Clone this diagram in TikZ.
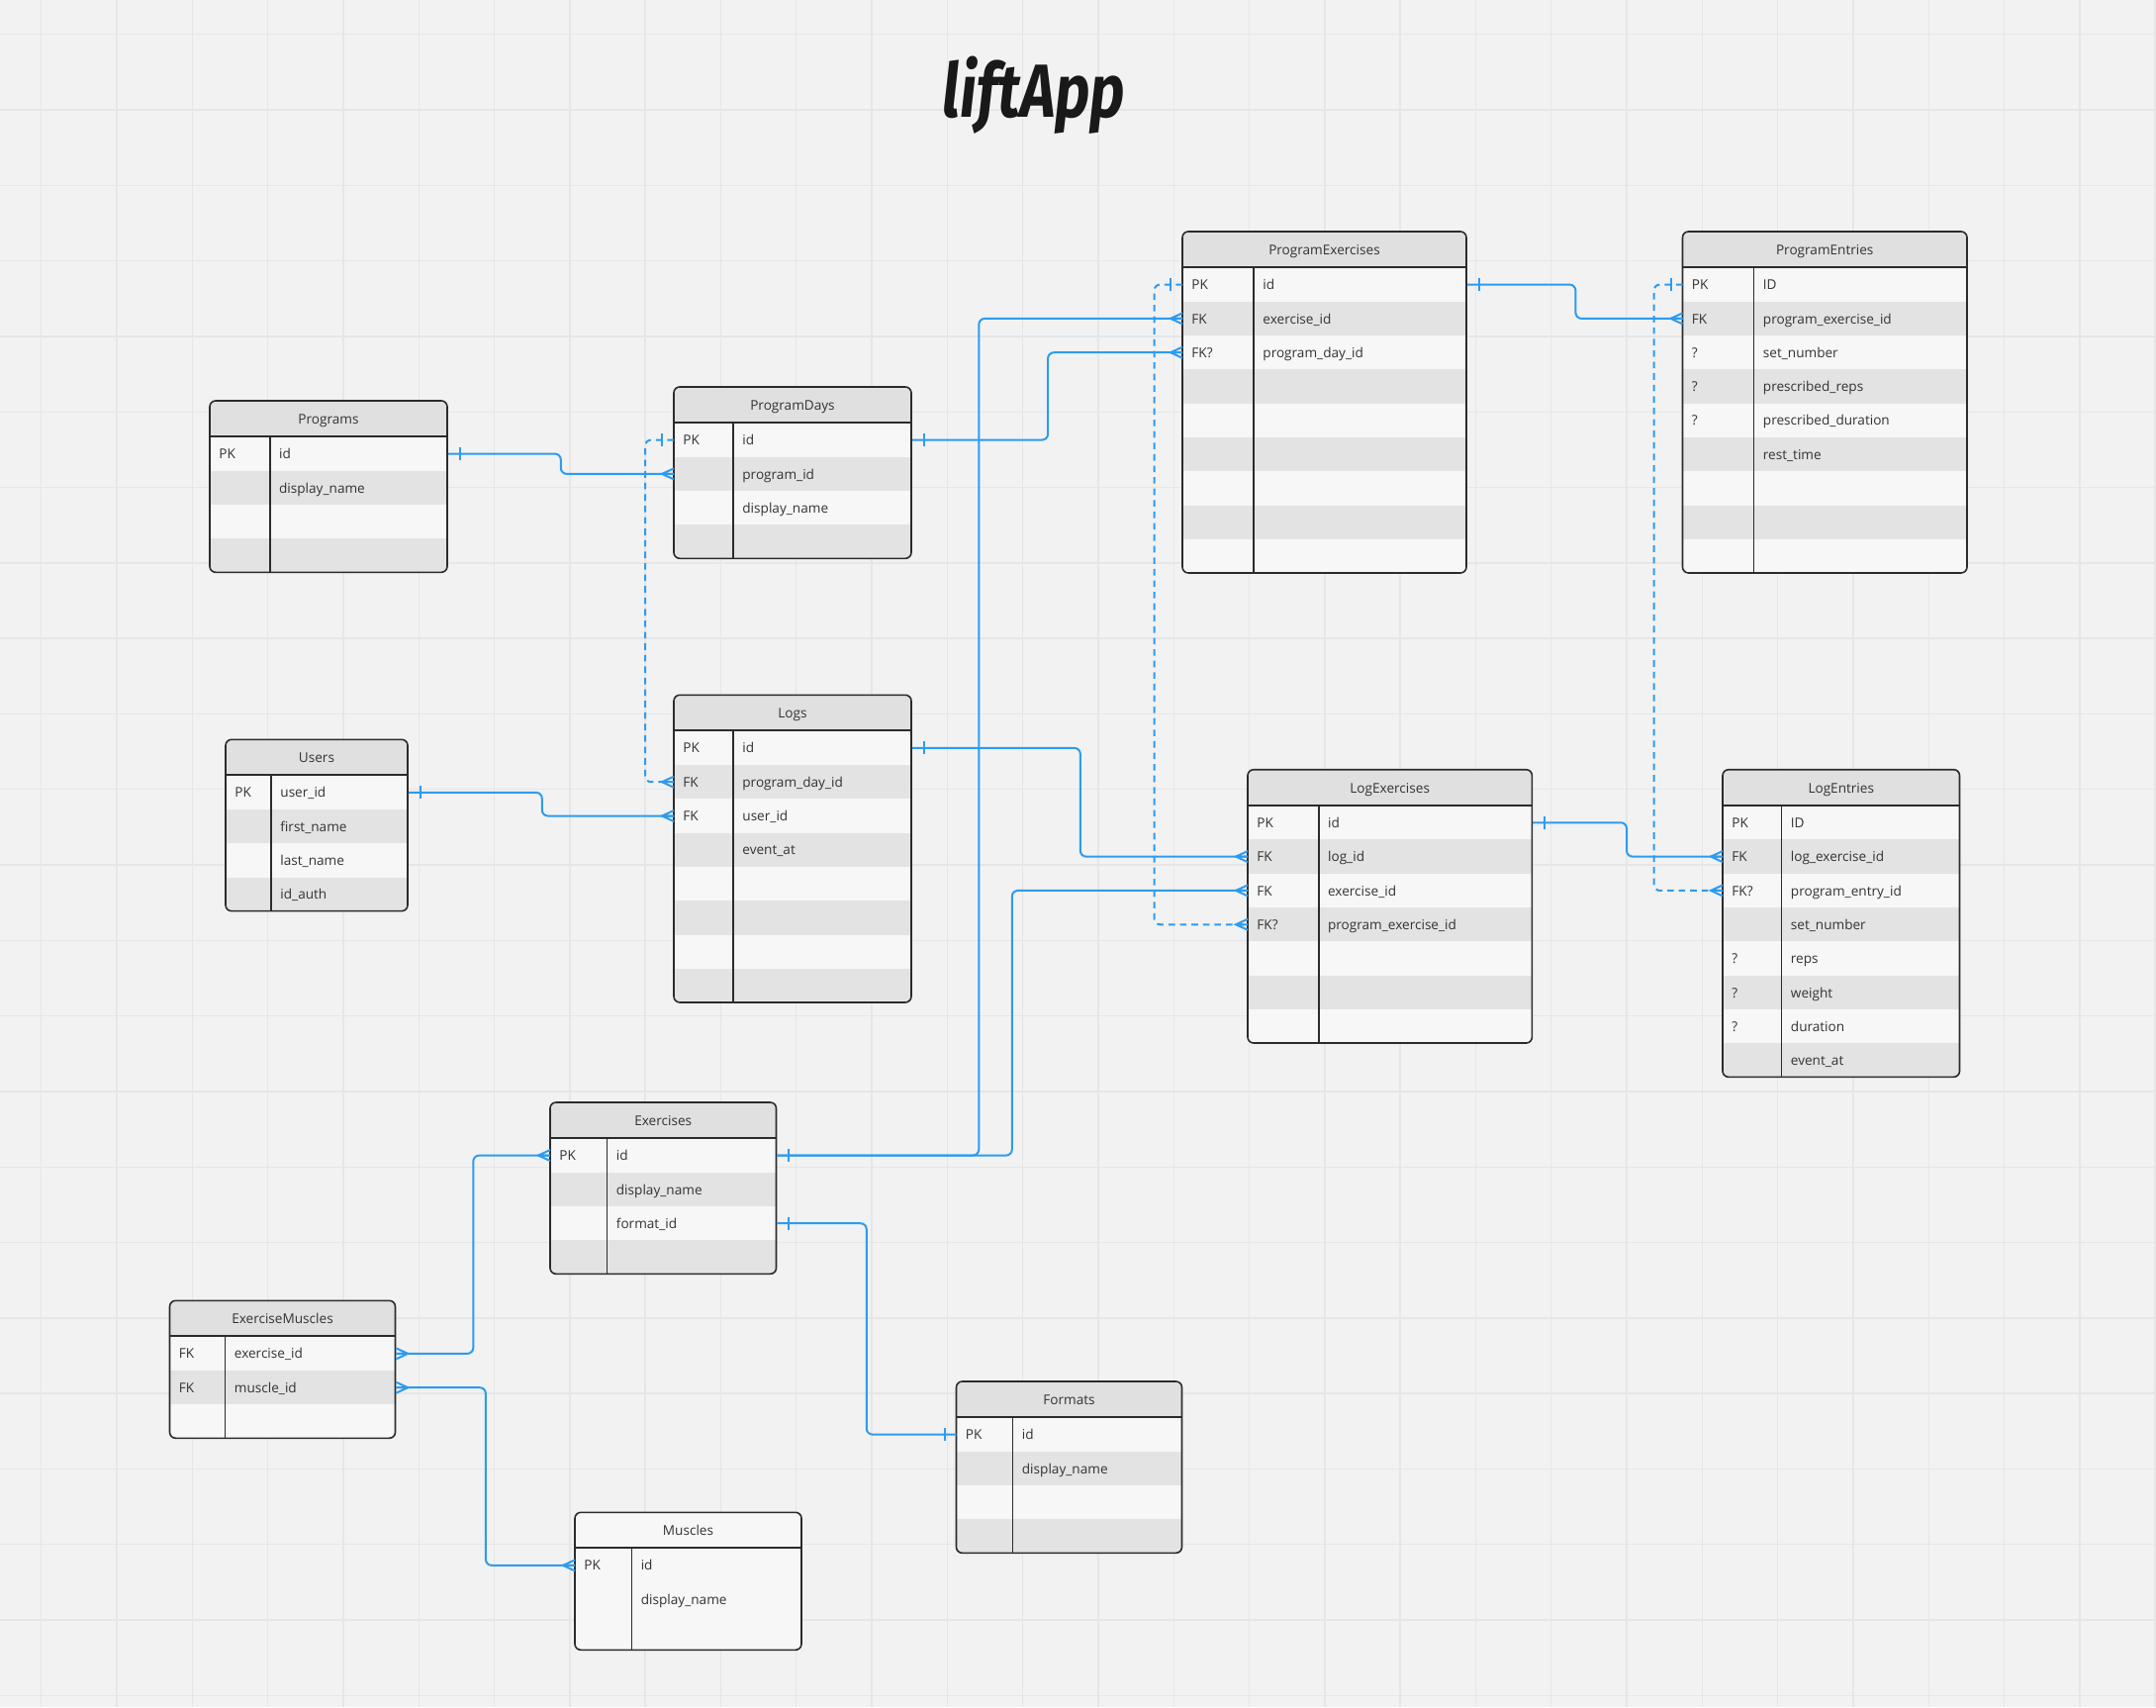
\documentclass[tikz,border=0pt]{standalone}
\usepackage{fontspec}
\setmainfont{Open Sans}
\newfontfamily\titlefont{Fira Sans}
\usepackage{tikz}

\definecolor{bgpaper}{HTML}{F2F2F2}
\definecolor{gridcol}{HTML}{E6E6E6}
\definecolor{erblue}{HTML}{2D9BF0}
\definecolor{erlight}{HTML}{F7F7F7}
\definecolor{erstripe}{HTML}{E3E3E3}
\definecolor{erhead}{HTML}{E0E0E0}
\definecolor{erink}{HTML}{2B2B2B}
\definecolor{ertext}{HTML}{333333}

\tikzset{
  gridline/.style={draw=gridcol, line width=0.7pt},
  erline/.style={draw=erblue, line width=1pt, rounded corners=3pt},
  erdash/.style={erline, dash pattern=on 3.3pt off 2.5pt},
  ermark/.style={draw=erblue, line width=1pt},
  erborder/.style={draw=erink, line width=0.8pt},
  rowbox/.style={anchor=north west, inner sep=0pt, minimum height=\rowh*\px},
  erkey/.style={anchor=base west, inner sep=0pt, text=ertext, font=\fontsize{6.8}{8}\selectfont},
  erfield/.style={erkey},
  ertitle/.style={anchor=base, inner sep=0pt, text=ertext, font=\fontsize{6.8}{8}\selectfont},
}

\newcommand{\rowh}{34.33}
\newcommand{\px}{0.5pt}
% #1 name, #2 left, #3 top, #4 width, #5 key column, #6 title, #7 rows
\newcommand{\ertable}[7]{%
  \foreach \k/\f [count=\i] in {#7} {\xdef\ernrows{\i}}%
  \pgfmathsetmacro{\erbottom}{36+\ernrows*\rowh}%
  \begin{scope}[shift={(#2,#3)}]
    \begin{scope}
      \clip[rounded corners=3pt] (0,0) rectangle (#4,\erbottom);
      \fill[erhead] (0,0) rectangle (#4,36);
      \foreach \k/\f [count=\i] in {#7} {
        \pgfmathsetmacro{\ertop}{36+(\i-1)*\rowh}
        \ifodd\i\relax\colorlet{erfill}{erlight}\else\colorlet{erfill}{erstripe}\fi
        \node[rowbox, fill=erfill, minimum width=#4*\px] (#1-\i) at (0,\ertop) {};
        \node[erkey] (#1-\i-k) at (9,\ertop+\rowh/2+5.5) {\k};
        \node[erfield] (#1-\i-f) at (#5+9,\ertop+\rowh/2+5.5) {\f};
      }
    \end{scope}
    \node[ertitle] (#1-t) at (#4/2,23.5) {#6};
    \draw[erborder, rounded corners=3pt] (0,0) rectangle (#4,\erbottom);
    \draw[erborder, line width=1.1pt] (0,36) -- (#4,36);
    \draw[erborder] (#5,36) -- (#5,\erbottom);
  \end{scope}}
% one / many ends, #2 = 1 (east side) or -1 (west side)
\newcommand{\onemark}[2]{\draw[ermark] ([xshift=#2*6pt, yshift=3.25pt]#1) -- ([xshift=#2*6pt, yshift=-3.25pt]#1);}
\newcommand{\manymark}[2]{\draw[ermark] ([yshift=2.75pt]#1) -- ([xshift=#2*6pt]#1) -- ([yshift=-2.75pt]#1) ([xshift=#2*6pt]#1) -- (#1);}

\begin{document}
\begin{tikzpicture}[x=0.5pt, y=-0.5pt]
  \useasboundingbox (0,0) rectangle (2179,1725);
  \fill[bgpaper] (0,0) rectangle (2179,1725);
  \foreach \gx in {0,...,28} \draw[gridline] ({41.7+76.3*\gx},0) -- ++(0,1725);
  \foreach \gy in {0,...,22} \draw[gridline] (0,{34.7+76.3*\gy}) -- ++(2179,0);

  \node[anchor=base, inner sep=0pt, text=black!90, font=\titlefont\bfseries\itshape\fontsize{38}{40}\selectfont] (title) at (1045,118) {\scalebox{0.8}[1]{liftApp}};

  \ertable{pg}{212}{405}{240}{60.7}{Programs}{PK/id, /display\_name, /, /}
  \ertable{pd}{681}{391}{240}{60}{ProgramDays}{PK/id, /program\_id, /display\_name, /}
  \ertable{pe}{1195}{234}{287}{72}{ProgramExercises}{PK/id, FK/exercise\_id, FK?/program\_day\_id, /, /, /, /, /, /}
  \ertable{pn}{1700.5}{234}{287.5}{72}{ProgramEntries}{PK/ID, FK/program\_exercise\_id, ?/set\_number, ?/prescribed\_reps, ?/prescribed\_duration, /rest\_time, /, /, /}
  \ertable{us}{228}{747.3}{184}{46}{Users}{PK/user\_id, /first\_name, /last\_name, /id\_auth}
  \ertable{lg}{681}{702.3}{240}{60}{Logs}{PK/id, FK/program\_day\_id, FK/user\_id, /event\_at, /, /, /, /}
  \ertable{le}{1261}{777.7}{287.4}{71.7}{LogExercises}{PK/id, FK/log\_id, FK/exercise\_id, FK?/program\_exercise\_id, /, /, /}
  \ertable{lt}{1741}{777.7}{239.5}{59.5}{LogEntries}{PK/ID, FK/log\_exercise\_id, FK?/program\_entry\_id, /set\_number, ?/reps, ?/weight, ?/duration, /event\_at}
  \ertable{ex}{556}{1114}{228.5}{57.5}{Exercises}{PK/id, /display\_name, /format\_id, /}
  \ertable{em}{171.5}{1314.3}{228}{56}{ExerciseMuscles}{FK/exercise\_id, FK/muscle\_id, /}
  \ertable{fm}{966.5}{1396}{228}{57}{Formats}{PK/id, /display\_name, /, /}
  {\colorlet{erhead}{erlight}\colorlet{erstripe}{erlight}%
  \ertable{mu}{581}{1528.3}{229}{57.4}{Muscles}{PK/id, /display\_name, /}}

  % relations
  \draw[erline] (pg-1.east) -- ++(114,0) |- (pd-2.west);
  \onemark{pg-1.east}{1} \manymark{pd-2.west}{-1}
  \draw[erline] (us-1.east) -- ++(135,0) |- (lg-3.west);
  \onemark{us-1.east}{1} \manymark{lg-3.west}{-1}
  \draw[erdash] (pd-1.west) -- ++(-29,0) |- (lg-2.west);
  \onemark{pd-1.west}{-1} \manymark{lg-2.west}{-1}
  \draw[erline] (pd-1.east) -- ++(137.3,0) |- (pe-3.west);
  \onemark{pd-1.east}{1} \manymark{pe-3.west}{-1}
  \draw[erline] (pe-1.east) -- ++(109.6,0) |- (pn-2.west);
  \onemark{pe-1.east}{1} \manymark{pn-2.west}{-1}
  \draw[erdash] (pe-1.west) -- ++(-28.5,0) |- (le-4.west);
  \onemark{pe-1.west}{-1} \manymark{le-4.west}{-1}
  \draw[erdash] (pn-1.west) -- ++(-29,0) |- (lt-3.west);
  \onemark{pn-1.west}{-1} \manymark{lt-3.west}{-1}
  \draw[erline] (lg-1.east) -- ++(170,0) |- (le-2.west);
  \onemark{lg-1.east}{1} \manymark{le-2.west}{-1}
  \draw[erline] (le-1.east) -- ++(94.8,0) |- (lt-2.west);
  \onemark{le-1.east}{1} \manymark{lt-2.west}{-1}
  \draw[erline] (ex-1.east) -- ++(204,0) |- (pe-2.west);
  \draw[erline] (ex-1.east) -- ++(237.5,0) |- (le-3.west);
  \onemark{ex-1.east}{1} \manymark{pe-2.west}{-1} \manymark{le-3.west}{-1}
  \draw[erline] (ex-3.east) -- ++(90.5,0) |- (fm-1.west);
  \onemark{ex-3.east}{1} \onemark{fm-1.west}{-1}
  \draw[erline] (em-1.east) -- ++(78,0) |- (ex-1.west);
  \manymark{em-1.east}{1} \manymark{ex-1.west}{-1}
  \draw[erline] (em-2.east) -- ++(90.6,0) |- (mu-1.west);
  \manymark{em-2.east}{1} \manymark{mu-1.west}{-1}
\end{tikzpicture}
\end{document}
